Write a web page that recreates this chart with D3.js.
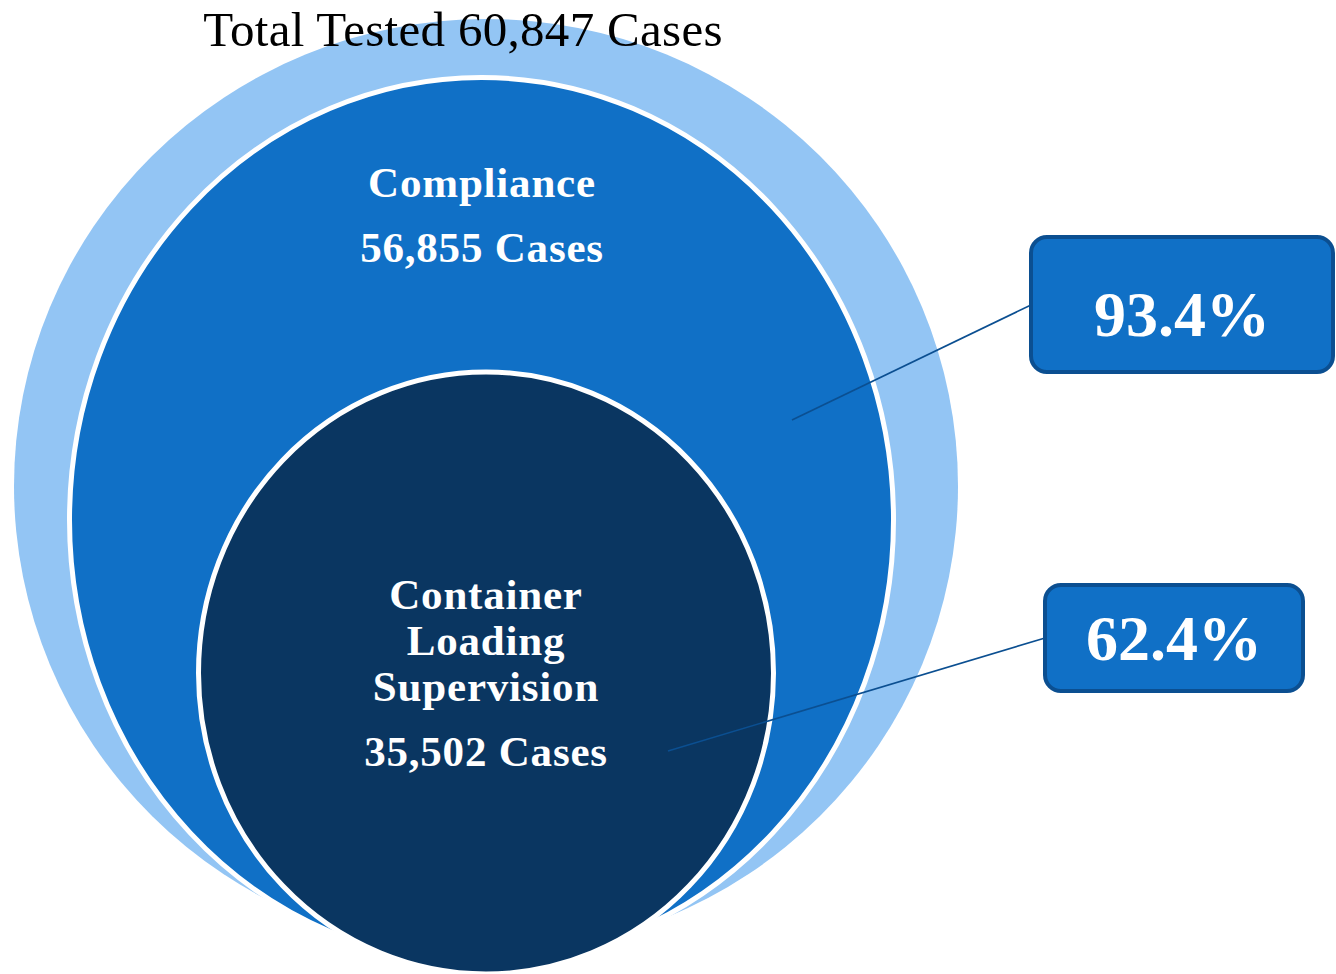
<!DOCTYPE html>
<html>
<head>
<meta charset="utf-8">
<script src="https://cdn.jsdelivr.net/npm/d3@7"></script>
<style>
  html, body { margin: 0; padding: 0; background: #fff; }
  svg { display: block; }
  text { font-family: "Liberation Serif", "DejaVu Serif", serif; }
</style>
</head>
<body>
<svg id="chart"></svg>
<script>
(function() {

    // data
    const setNames = ['Total Tested', 'Compliance', 'Container Loading Supervision'];
    const setCases = [60847, 56855, 35502];
    const labelLines = [
        [],
        ['Compliance'],
        ['Container', 'Loading', 'Supervision']
    ];

    const w = 1336;
    const h = 974;

    // nested ellipses, outer -> inner (layout only)
    const shapes = [
        { cx: 486, cy: 486, rx: 472, ry: 467, fill: '#93C5F4', stroke: 'none' },
        { cx: 481.5, cy: 520, rx: 412, ry: 442.5, fill: '#1070C6', stroke: '#fff' },
        { cx: 486, cy: 673, rx: 287.5, ry: 301, fill: '#0A3661', stroke: '#fff' }
    ];

    const fmtInt = d3.format(',');
    const fmtPct = d3.format('.1%');

    // share of each set in the one that contains it
    const shares = [setCases[1] / setCases[0], setCases[2] / setCases[1]];

    const svg = d3.select('#chart')
        .attr('width', w)
        .attr('height', h);

    svg.selectAll('.set')
        .data(shapes)
        .enter()
        .append('ellipse')
        .attr('class', 'set')
        .attr('cx', d => d.cx)
        .attr('cy', d => d.cy)
        .attr('rx', d => d.rx)
        .attr('ry', d => d.ry)
        .attr('fill', d => d.fill)
        .attr('stroke', d => d.stroke)
        .attr('stroke-width', 5);

    // title
    svg.append('text')
        .attr('x', 463)
        .attr('y', 46)
        .attr('text-anchor', 'middle')
        .attr('font-size', 49)
        .attr('letter-spacing', 0.3)
        .attr('fill', '#000')
        .text(`${setNames[0]} ${fmtInt(setCases[0])} Cases`);

    // labels inside the circles
    const labelPos = [
        null,
        { x: 482, y: 197, lineH: 46, gap: 65 },
        { x: 486, y: 609, lineH: 46, gap: 65 }
    ];

    [1, 2].forEach(i => {
        const p = labelPos[i];
        const g = svg.append('g')
            .attr('fill', '#fff')
            .attr('font-weight', 'bold')
            .attr('font-size', 43)
            .attr('letter-spacing', 0.8)
            .attr('text-anchor', 'middle');
        labelLines[i].forEach((line, j) => {
            g.append('text')
                .attr('x', p.x)
                .attr('y', p.y + j * p.lineH)
                .text(line);
        });
        g.append('text')
            .attr('x', p.x)
            .attr('y', p.y + (labelLines[i].length - 1) * p.lineH + p.gap)
            .text(`${fmtInt(setCases[i])} Cases`);
    });

    // callouts
    const callouts = [
        { box: [1031, 237, 302, 135], from: [792, 420], to: [1031, 305], ty: 336 },
        { box: [1045, 585, 258, 106], from: [668, 751], to: [1045, 638], ty: 660 }
    ];

    callouts.forEach((c, i) => {
        svg.append('line')
            .attr('x1', c.from[0])
            .attr('y1', c.from[1])
            .attr('x2', c.to[0])
            .attr('y2', c.to[1])
            .attr('stroke', '#0B4F91')
            .attr('stroke-width', 1.6);

        svg.append('rect')
            .attr('x', c.box[0])
            .attr('y', c.box[1])
            .attr('width', c.box[2])
            .attr('height', c.box[3])
            .attr('rx', 16)
            .attr('fill', '#1070C6')
            .attr('stroke', '#0B4F91')
            .attr('stroke-width', 4);

        svg.append('text')
            .attr('x', c.box[0] + c.box[2] / 2)
            .attr('y', c.ty)
            .attr('text-anchor', 'middle')
            .attr('font-weight', 'bold')
            .attr('font-size', 64)
            .attr('fill', '#fff')
            .text(fmtPct(shares[i]));
    });

})();
</script>
</body>
</html>
